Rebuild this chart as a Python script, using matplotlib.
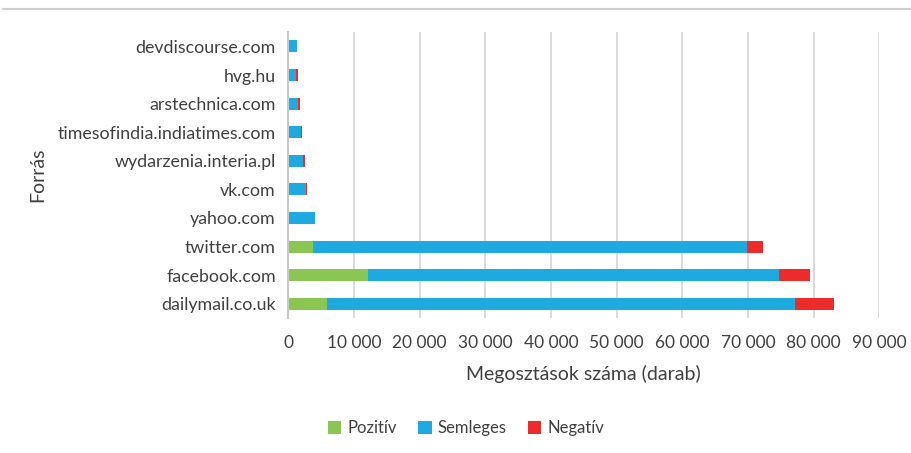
import numpy as np
import matplotlib.pyplot as plt
from matplotlib.lines import Line2D

plt.rcParams['font.family'] = ['Lato', 'DejaVu Sans']

sources = ['dailymail.co.uk', 'facebook.com', 'twitter.com', 'yahoo.com', 'vk.com',
           'wydarzenia.interia.pl', 'timesofindia.indiatimes.com', 'arstechnica.com',
           'hvg.hu', 'devdiscourse.com']
pozitiv = [5900, 12150, 3850, 0, 150, 0, 0, 0, 0, 0]
semleges = [71250, 62650, 65950, 4030, 2510, 2310, 1950, 1500, 1140, 1300]
negativ = [6000, 4650, 2450, 0, 260, 240, 100, 250, 350, 0]
xticks = np.arange(0, 90001, 10000)

green = '#8CC652'
blue = '#1EAAE1'
red = '#EE2B2B'
txt = '#404040'

fig = plt.figure(figsize=(9.12, 4.53), dpi=100)
ax = fig.add_axes([0.316, 0.298, 0.648, 0.631])

y = np.arange(len(sources))
p = np.array(pozitiv)
s = np.array(semleges)
n = np.array(negativ)
h = 0.42
ax.barh(y, p, height=h, color=green, label='Pozitív', zorder=3)
ax.barh(y, s, left=p, height=h, color=blue, label='Semleges', zorder=3)
ax.barh(y, n, left=p + s, height=h, color=red, label='Negatív', zorder=3)

ax.set_xlim(0, 90000)
ax.set_ylim(-0.5, len(sources) - 0.5)
ax.set_xticks(xticks)
ax.set_xticklabels([f'{v:,}'.replace(',', ' ') for v in xticks], fontsize=12.5, color=txt)
ax.set_yticks(y)
ax.set_yticklabels(sources, fontsize=12.8, color=txt)
ax.tick_params(axis='y', length=0, pad=9)
ax.tick_params(axis='x', length=0, pad=12)
ax.grid(axis='x', color='#D4D4D4', lw=1.2, zorder=0)
for sp in ['top', 'right', 'bottom']:
    ax.spines[sp].set_visible(False)
ax.spines['left'].set_color('#C8C8C8')
ax.spines['left'].set_linewidth(1.5)
ax.spines['left'].set_zorder(4)

ax.set_xlabel('Megosztások száma (darab)', fontsize=14, color=txt, labelpad=10)
ax.set_ylabel('Forrás', fontsize=14, color=txt)
ax.yaxis.set_label_coords(-0.41, 0.5)

handles, labels = ax.get_legend_handles_labels()
fig.legend(handles, labels, loc='center', bbox_to_anchor=(0.511, 0.055), ncol=3,
           frameon=False, fontsize=12, labelcolor=txt, handlelength=0.8,
           handleheight=0.8, handletextpad=0.35, columnspacing=1.3)

fig.add_artist(Line2D([0.003, 1.0], [0.98, 0.98], color='#D0D0D0', lw=1.5))

fig.savefig('out.png', dpi=100)
